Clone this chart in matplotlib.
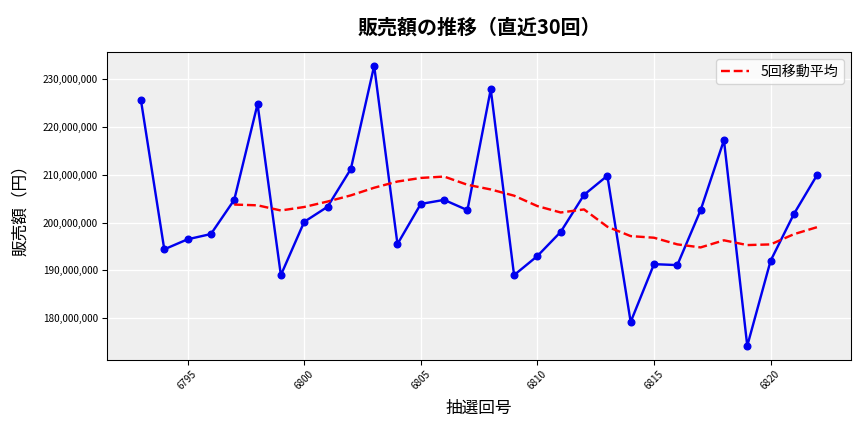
import matplotlib
matplotlib.use("Agg")
import matplotlib.pyplot as plt
import matplotlib.ticker as mticker
import pandas as pd

plt.rcParams['font.family'] = ['Noto Sans CJK JP', 'DejaVu Sans']

draws = list(range(6793, 6823))
sales = [225.6, 194.4, 196.5, 197.6, 204.75, 224.8, 189.0, 200.15, 203.3, 211.2,
         232.8, 195.5, 203.9, 204.75, 202.6, 227.9, 189.0, 193.0, 198.05, 205.8,
         209.8, 179.2, 191.3, 191.1, 202.6, 217.25, 174.2, 192.0, 201.8, 210.0]
sales = [v * 1e6 for v in sales]

s = pd.Series(sales, index=draws)
ma = s.rolling(5).mean()

fig, ax = plt.subplots(figsize=(9, 4.5), dpi=96)
fig.subplots_adjust(left=0.124, right=0.985, top=0.880, bottom=0.167)
ax.set_facecolor('#efefef')
ax.grid(True, color='white', linewidth=1)
ax.set_axisbelow(True)
ax.plot(draws, sales, color='#0000ee', marker='o', markersize=5, linewidth=1.8)
ax.plot(draws, ma.values, color='red', linestyle='--', linewidth=1.8, label='5回移動平均')
ax.set_title('販売額の推移（直近30回）', fontsize=15, fontweight='bold', pad=14)
ax.set_xlabel('抽選回号', fontsize=12.5, labelpad=6)
ax.set_ylabel('販売額（円）', fontsize=12.5, labelpad=10)
ax.yaxis.set_major_formatter(mticker.FuncFormatter(lambda v, p: f'{int(v):,}'))
ax.tick_params(axis='both', labelsize=7.5)
plt.setp(ax.get_xticklabels(), rotation=45)
ax.legend(loc='upper right', fontsize=10.5)
fig.savefig('out.png', dpi=96)
